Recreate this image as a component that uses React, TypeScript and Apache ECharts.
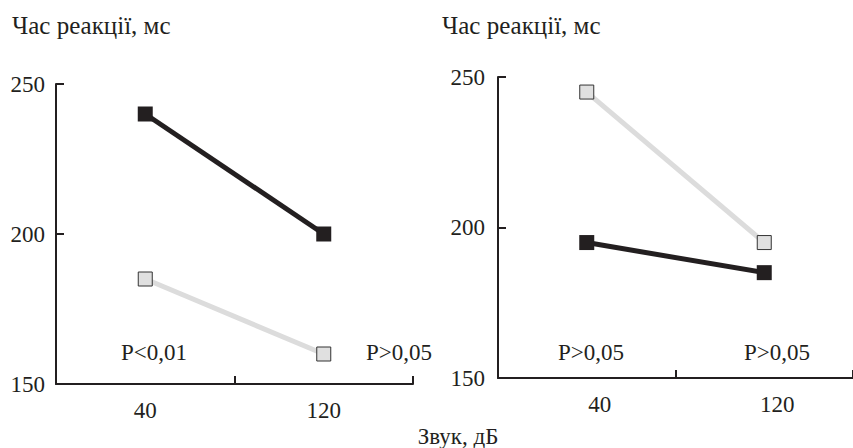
import React, { useEffect, useRef } from "react";
import * as echarts from "echarts";

const categories = ["40", "120"];
const leftBlack = [240, 200];
const leftGray = [185, 160];
const rightGray = [245, 195];
const rightBlack = [195, 185];
const yTitle = "Час реакції, мс";
const xTitle = "Звук, дБ";
const leftNotes = ["P<0,01", "P>0,05"];
const rightNotes = ["P>0,05", "P>0,05"];

const FONT = "Liberation Serif";
const INK = "#231f20";
const FS = 23;

export default function App() {
  const ref = useRef<HTMLDivElement>(null);
  useEffect(() => {
    if (!ref.current) return;
    const chart = echarts.init(ref.current, undefined, { renderer: "svg" });
    const yAxisBase = (gridIndex: number, margin: number) => ({
      type: "value",
      gridIndex,
      min: 150,
      max: 250,
      interval: 50,
      splitLine: { show: false },
      axisLine: { show: true, lineStyle: { color: INK, width: 2 } },
      axisTick: { show: true, inside: true, length: 8, lineStyle: { color: INK, width: 2 } },
      axisLabel: { color: INK, fontFamily: FONT, fontSize: FS, margin },
    });
    const xAxisBase = (gridIndex: number, padding: number[]) => ({
      type: "category",
      gridIndex,
      data: categories,
      boundaryGap: true,
      axisLine: { show: true, lineStyle: { color: INK, width: 2 } },
      axisTick: { show: true, inside: true, length: 8, lineStyle: { color: INK, width: 2 } },
      axisLabel: { color: INK, fontFamily: FONT, fontSize: FS, margin: 15, padding },
    });
    const blackSeries = (idx: number, data: number[]) => ({
      type: "line",
      xAxisIndex: idx,
      yAxisIndex: idx,
      data,
      symbol: "rect",
      symbolSize: 15,
      z: 3,
      lineStyle: { color: INK, width: 5 },
      itemStyle: { color: INK },
    });
    const graySeries = (idx: number, data: number[]) => ({
      type: "line",
      xAxisIndex: idx,
      yAxisIndex: idx,
      data,
      symbol: "rect",
      symbolSize: 14,
      z: 2,
      lineStyle: { color: "#dcdcdc", width: 5 },
      itemStyle: { color: "#e0e0e0", borderColor: "#333333", borderWidth: 1 },
    });
    const txt = (x: number, y: number, text: string, align = "center", size = FS) => ({
      type: "text",
      x,
      y,
      style: {
        text,
        fill: INK,
        fontFamily: FONT,
        fontSize: size,
        align,
        verticalAlign: "middle",
      },
    });
    chart.setOption({
      animation: false,
      backgroundColor: "#ffffff",
      textStyle: { fontFamily: FONT },
      grid: [
        { left: 56, top: 84, width: 357, height: 300 },
        { left: 498, top: 77, right: 0, height: 301 },
      ],
      xAxis: [xAxisBase(0, [0, 0, 0, 0]), xAxisBase(1, [0, 0, 0, 26])],
      yAxis: [yAxisBase(0, 11), yAxisBase(1, 13)],
      series: [
        graySeries(0, leftGray),
        blackSeries(0, leftBlack),
        graySeries(1, rightGray),
        blackSeries(1, rightBlack),
      ],
      graphic: [
        txt(12, 25, yTitle, "left", 25),
        txt(442, 25, yTitle, "left", 25),
        txt(154, 352, leftNotes[0]),
        txt(399, 352, leftNotes[1]),
        txt(591, 352, rightNotes[0]),
        txt(777, 352, rightNotes[1]),
        txt(458, 436, xTitle),
      ],
    });
    return () => chart.dispose();
  }, []);
  return (
    <div
      ref={ref}
      style={{ position: "absolute", left: 0, top: 0, width: 853, height: 448 }}
    />
  );
}
